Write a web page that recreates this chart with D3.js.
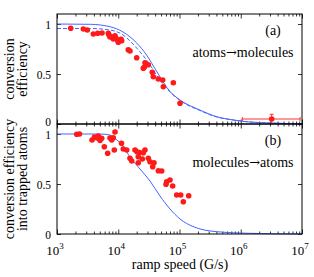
<!DOCTYPE html>
<html>
<head>
<meta charset="utf-8">
<script src="https://cdn.jsdelivr.net/npm/d3@7"></script>
<style>
body { margin: 0; background: #fff; }
svg text { font-family: 'Liberation Serif', 'DejaVu Serif', serif; fill: #000; }
</style>
</head>
<body>
<svg id="chart" width="314" height="277"></svg>
<script>

// (a) atoms -> molecules, measured points
const aSpeed = [1675, 2690, 3125, 3920, 4620, 5430, 6880, 7060, 7330, 7810, 8300, 8850, 9190,
    9790, 10000, 11090, 11380, 14580, 15550, 20000, 25650, 26600, 27330, 30950, 35980, 37340,
    45080, 53200, 54450, 79300, 101900];
const aEff = [0.957, 0.95, 0.94, 0.90, 0.907, 0.91, 0.907, 0.89, 0.87, 0.873, 0.85, 0.883, 0.857,
    0.837, 0.817, 0.847, 0.833, 0.743, 0.73, 0.663, 0.557, 0.567, 0.613, 0.593, 0.517, 0.473,
    0.45, 0.44, 0.373, 0.413, 0.207];

// the single point with error bars
const errPoint = {x: 3.2e6, y: 0.05, x0: 1.06e6, x1: 9.3e6, y0: 0.003, y1: 0.097};

// (a) solid and dashed blue curves
const aSolidX = [1e3, 3.5e3, 7.3e3, 1.2e4, 2e4, 2.9e4, 4.2e4, 7e4, 1.02e5, 2.15e5, 4.05e5, 7.6e5, 1.4e6, 1e7];
const aSolidY = [1.0, 0.997, 0.973, 0.92, 0.81, 0.69, 0.53, 0.325, 0.24, 0.14, 0.073, 0.04, 0.02, 0.002];
const aDashX = [1e3, 3.5e3, 7.3e3, 1.2e4, 1.8e4, 2.9e4, 4.8e4, 7e4, 1.02e5, 2.15e5, 4.05e5, 7.6e5, 1.4e6, 1e7];
const aDashY = [0.955, 0.955, 0.94, 0.89, 0.79, 0.64, 0.44, 0.32, 0.235, 0.135, 0.07, 0.04, 0.02, 0.002];

// (b) molecules -> atoms, measured points
const bSpeed = [2100, 2330, 3730, 4090, 4500, 4720, 5370, 5040, 5920, 6720, 7330, 7820, 8300, 8850,
    8620, 11300, 12080, 13740, 15550, 16590, 18770, 20220, 21230, 22220, 24700, 27330, 25650, 21230,
    30970, 32970, 36480, 38350, 45080, 51200, 61760, 60230, 69980, 77400, 90000, 104700, 141300, 115400];
const bEff = [0.997, 1.0, 0.94, 0.97, 0.96, 0.98, 0.957, 0.935, 0.873, 0.807, 0.96, 0.94, 0.963, 1.02,
    0.84, 0.907, 0.85, 0.84, 0.757, 0.73, 0.84, 0.823, 0.773, 0.815, 0.75, 0.84, 0.813, 0.713,
    0.757, 0.723, 0.673, 0.713, 0.633, 0.63, 0.523, 0.497, 0.54, 0.48, 0.39, 0.39, 0.383, 0.323];

const bCurveX = [1e3, 5e3, 7.33e3, 8.85e3, 1.19e4, 1.555e4, 2.265e4, 3.297e4, 4.808e4, 7e4, 1.02e5, 1.66e5, 4.05e5, 1.4e6, 1e7];
const bCurveY = [1.0, 1.0, 0.99, 0.955, 0.88, 0.77, 0.65, 0.53, 0.38, 0.25, 0.15, 0.075, 0.023, 0.007, 0.0];

const xDecades = [3, 4, 5, 6, 7];
const yTicks = [0, 0.5, 1];

const blue = '#4466ff';
const red = '#ff1a1a';
const serif = 'Liberation Serif, DejaVu Serif, serif';

const svg = d3.select('#chart');

const x = d3.scaleLog().domain([1e3, 1e7]).range([57, 302]);
const yA = d3.scaleLinear().domain([0, 1.1]).range([124, 14]);
const yB = d3.scaleLinear().domain([0, 1.1]).range([234, 124]);

const minorTicks = [];
for (let d = 3; d < 7; d++) {
    for (let m = 2; m < 10; m++) minorTicks.push(m * Math.pow(10, d));
}
const majorTicks = xDecades.map(function(d) { return Math.pow(10, d); });

function noDomain(a) { a.select('.domain').remove(); }

function drawPanel(y, opts) {
    const g = svg.append('g');
    const top = y.range()[1], bottom = y.range()[0];

    // ticks on all four sides, pointing inwards
    [[d3.axisBottom, bottom], [d3.axisTop, top]].forEach(function(s) {
        g.append('g').attr('transform', 'translate(0,' + s[1] + ')')
            .call(s[0](x).tickValues(minorTicks).tickSize(-2.5).tickFormat(''))
            .call(noDomain);
        g.append('g').attr('transform', 'translate(0,' + s[1] + ')')
            .call(s[0](x).tickValues(majorTicks).tickSize(-4.5).tickFormat(''))
            .call(noDomain);
    });
    g.append('g').attr('transform', 'translate(57,0)')
        .call(d3.axisLeft(y).tickValues(yTicks).tickSize(-4).tickFormat(''))
        .call(noDomain);
    g.append('g').attr('transform', 'translate(302,0)')
        .call(d3.axisRight(y).tickValues(yTicks).tickSize(-4).tickFormat(''))
        .call(noDomain);
    g.selectAll('.tick line').attr('stroke', '#000').attr('stroke-width', 0.8);

    // the two labels where the panels meet are nudged apart a little
    g.selectAll('.ylab')
        .data(yTicks)
        .enter().append('text')
        .attr('x', 51)
        .attr('y', function(d) {
            if (d === 0 && opts.tag === '(a)') return y(d) + 1.5;
            if (d === 1 && opts.tag === '(b)') return y(d) + 5;
            return y(d) + 4.5;
        })
        .attr('text-anchor', 'end')
        .attr('font-family', serif)
        .style('font-size', '11.5px')
        .text(function(d) { return d; });

    // curves
    const line = d3.line()
        .x(function(d) { return x(d[0]); })
        .y(function(d) { return y(d[1]); })
        .curve(d3.curveMonotoneX);
    opts.curves.forEach(function(c) {
        g.append('path')
            .datum(d3.zip(c.xs, c.ys))
            .attr('d', line)
            .attr('fill', 'none')
            .attr('stroke', blue)
            .attr('stroke-width', 1)
            .attr('stroke-dasharray', c.dash || null);
    });

    // data points
    g.selectAll('.dot')
        .data(d3.zip(opts.xs, opts.ys))
        .enter().append('circle')
        .attr('cx', function(d) { return x(d[0]); })
        .attr('cy', function(d) { return y(d[1]); })
        .attr('r', 2.8)
        .attr('fill', red);

    // frame
    g.append('rect')
        .attr('x', 57).attr('y', top)
        .attr('width', 245).attr('height', bottom - top)
        .attr('fill', 'none')
        .attr('stroke', '#000')
        .attr('stroke-width', 1);

    g.append('text')
        .attr('x', 273).attr('y', top + 21)
        .attr('text-anchor', 'middle')
        .attr('font-family', serif)
        .style('font-size', '14px')
        .text(opts.tag);

    // the arrow is taken from DejaVu, Liberation's own one is tiny
    const lab = g.append('text')
        .attr('x', 243).attr('y', top + 43)
        .attr('text-anchor', 'middle')
        .attr('font-family', serif)
        .style('font-size', '14px');
    lab.append('tspan').text(opts.label[0]);
    lab.append('tspan').attr('font-family', 'DejaVu Serif').style('font-size', '13px').text('\u2192');
    lab.append('tspan').text(opts.label[1]);

    // rotated y title, two lines
    const mid = (top + bottom) / 2;
    opts.title.forEach(function(t, i) {
        g.append('text')
            .attr('transform', 'translate(' + (14 + 13 * i) + ',' + mid + ') rotate(-90)')
            .attr('text-anchor', 'middle')
            .attr('font-family', serif)
            .style('font-size', '14px')
            .text(t);
    });
    return g;
}

const gA = drawPanel(yA, {
    xs: aSpeed, ys: aEff,
    curves: [{xs: aSolidX, ys: aSolidY}, {xs: aDashX, ys: aDashY, dash: '4,2'}],
    tag: '(a)', label: ['atoms', 'molecules'],
    title: ['conversion', 'efficiency']
});

// error bar point in (a)
const eb = gA.append('g').attr('stroke', red).attr('stroke-width', 0.9);
eb.append('line').attr('x1', x(errPoint.x0)).attr('x2', x(errPoint.x1))
    .attr('y1', yA(errPoint.y)).attr('y2', yA(errPoint.y));
[errPoint.x0, errPoint.x1].forEach(function(v) {
    eb.append('line').attr('x1', x(v)).attr('x2', x(v))
        .attr('y1', yA(errPoint.y) - 2).attr('y2', yA(errPoint.y) + 2);
});
eb.append('line').attr('x1', x(errPoint.x)).attr('x2', x(errPoint.x))
    .attr('y1', yA(errPoint.y0)).attr('y2', yA(errPoint.y1));
eb.append('line').attr('x1', x(errPoint.x) - 2).attr('x2', x(errPoint.x) + 2)
    .attr('y1', yA(errPoint.y1)).attr('y2', yA(errPoint.y1));
gA.append('circle').attr('cx', x(errPoint.x)).attr('cy', yA(errPoint.y))
    .attr('r', 2.8).attr('fill', red);

drawPanel(yB, {
    xs: bSpeed, ys: bEff,
    curves: [{xs: bCurveX, ys: bCurveY}],
    tag: '(b)', label: ['molecules', 'atoms'],
    title: ['conversion efficiency', 'into trapped atoms']
});

// x tick labels 10^n
const xl = svg.selectAll('.xlab')
    .data(xDecades)
    .enter().append('text')
    .attr('x', function(d) { return x(Math.pow(10, d)) - 2; })
    .attr('y', 255)
    .attr('text-anchor', 'middle')
    .attr('font-family', serif)
    .style('font-size', '13px');
xl.append('tspan').text('10');
xl.append('tspan')
    .attr('dy', -6)
    .style('font-size', '9px')
    .text(function(d) { return d; });

svg.append('text')
    .attr('x', 180).attr('y', 269)
    .attr('text-anchor', 'middle')
    .attr('font-family', serif)
    .style('font-size', '14px')
    .text('ramp speed (G/s)');

</script>
</body>
</html>
